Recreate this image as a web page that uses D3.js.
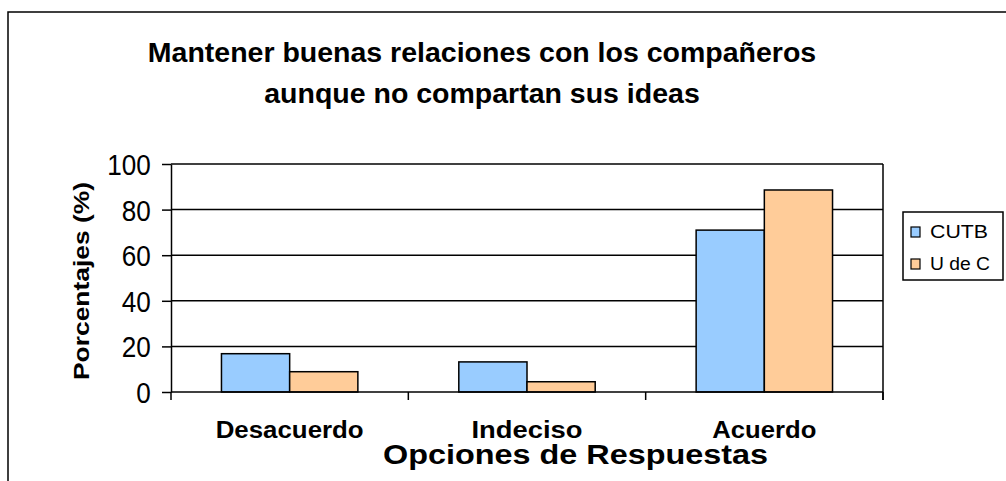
<!DOCTYPE html>
<html>
<head>
<meta charset="utf-8">
<script src="https://cdn.jsdelivr.net/npm/d3@7"></script>
<style>
  body { margin: 0; background: #fff; }
  svg { font-family: Arial, "Liberation Sans", sans-serif; }
</style>
</head>
<body>
<svg id="chart" width="1006" height="481"></svg>
<script>
// chart data
const categories = ["Desacuerdo", "Indeciso", "Acuerdo"];
const seriesNames = ["CUTB", "U de C"];
const cutb = [16.8, 13.2, 71];
const udec = [8.9, 4.5, 88.6];
const yTicks = [0, 20, 40, 60, 80, 100];

const colors = ["#99ccff", "#ffcc99"];

let svg = d3.select("#chart");

// outer frame
svg.append("rect")
  .attr("x", 8).attr("y", 12)
  .attr("width", 1100).attr("height", 600)
  .attr("fill", "none").attr("stroke", "#000").attr("stroke-width", 1.5);

const plotL = 171, plotR = 883, plotT = 164, plotB = 392;

let x = d3.scaleBand().domain(categories).range([plotL, plotR]);
let xs = d3.scaleBand().domain(seriesNames).range([0, x.bandwidth()]).paddingOuter(0.74);
let y = d3.scaleLinear().domain([0, 100]).range([plotB, plotT]);

// gridlines
svg.append("g").selectAll("line").data(yTicks.filter(d => d > 0)).enter().append("line")
  .attr("x1", plotL).attr("x2", plotR)
  .attr("y1", d => y(d)).attr("y2", d => y(d))
  .attr("stroke", "#000").attr("stroke-width", 1.5);

// right border of plot area
svg.append("line")
  .attr("x1", plotR).attr("x2", plotR).attr("y1", plotT).attr("y2", plotB + 8)
  .attr("stroke", "#000").attr("stroke-width", 1.5);

// bars
let rows = categories.map((c, i) => ({cat: c, vals: [cutb[i], udec[i]]}));
let groups = svg.append("g").selectAll("g").data(rows).enter().append("g")
  .attr("transform", d => `translate(${x(d.cat)},0)`);
groups.selectAll("rect").data(d => d.vals.map((v, j) => ({name: seriesNames[j], v: v, j: j})))
  .enter().append("rect")
  .attr("x", d => xs(d.name))
  .attr("width", xs.bandwidth())
  .attr("y", d => y(d.v))
  .attr("height", d => plotB - y(d.v))
  .attr("fill", d => colors[d.j])
  .attr("stroke", "#000").attr("stroke-width", 1.5);

// y axis
let yAxis = svg.append("g")
  .attr("transform", `translate(${plotL},0)`)
  .call(d3.axisLeft(y).tickValues(yTicks).tickSize(9).tickSizeOuter(0));
yAxis.select(".domain").attr("stroke-width", 1.5);
yAxis.selectAll(".tick line").attr("stroke-width", 1.5);
yAxis.selectAll("text")
  .attr("x", -22.5).attr("dy", "0.36em")
  .attr("transform", "scale(0.9,1)")
  .attr("font-size", 29).attr("fill", "#000")
  .style("font-family", "Arial, 'Liberation Sans', sans-serif");

// x axis: ticks at category boundaries
let xAxis = svg.append("g").attr("transform", `translate(0,${plotB})`);
xAxis.append("line").attr("x1", plotL).attr("x2", plotR)
  .attr("stroke", "#000").attr("stroke-width", 1.5);
let bounds = categories.map(c => x(c)).concat([plotR]);
xAxis.selectAll("line.tk").data(bounds).enter().append("line")
  .attr("class", "tk")
  .attr("x1", d => d).attr("x2", d => d).attr("y1", 0).attr("y2", 8)
  .attr("stroke", "#000").attr("stroke-width", 1.5);
const catWidths = [148, 111, 104];
xAxis.selectAll("text").data(categories).enter().append("text")
  .attr("x", (d, i) => x(d) + x.bandwidth() / 2 - catWidths[i] / 2)
  .attr("y", 46)
  .attr("font-size", 23).attr("font-weight", "bold")
  .attr("textLength", (d, i) => catWidths[i])
  .attr("lengthAdjust", "spacingAndGlyphs")
  .text(d => d);

// titles
let title = svg.append("text")
  .attr("text-anchor", "middle").attr("font-size", 28.5).attr("font-weight", "bold");
title.append("tspan").attr("x", 482).attr("y", 62).text("Mantener buenas relaciones con los compañeros");
title.append("tspan").attr("x", 482).attr("y", 103).text("aunque no compartan sus ideas");

svg.append("text")
  .attr("x", 383).attr("y", 464)
  .attr("font-size", 28).attr("font-weight", "bold")
  .attr("textLength", 385).attr("lengthAdjust", "spacingAndGlyphs")
  .text("Opciones de Respuestas");

svg.append("text")
  .attr("transform", "translate(89,380) rotate(-90)")
  .attr("font-size", 22).attr("font-weight", "bold")
  .attr("textLength", 198).attr("lengthAdjust", "spacingAndGlyphs")
  .text("Porcentajes (%)");

// legend
const legendWidths = [58, 60];
let legend = svg.append("g").attr("transform", "translate(903,212)");
legend.append("rect").attr("width", 100).attr("height", 68)
  .attr("fill", "#fff").attr("stroke", "#000").attr("stroke-width", 1.5);
let items = legend.selectAll("g").data(seriesNames).enter().append("g")
  .attr("transform", (d, i) => `translate(8,${15 + i * 32})`);
items.append("rect").attr("width", 9).attr("height", 10)
  .attr("fill", (d, i) => colors[i]).attr("stroke", "#000").attr("stroke-width", 1.2);
items.append("text").attr("x", 19).attr("y", 11).attr("font-size", 18)
  .attr("textLength", (d, i) => legendWidths[i]).attr("lengthAdjust", "spacingAndGlyphs")
  .text(d => d);
</script>
</body>
</html>
